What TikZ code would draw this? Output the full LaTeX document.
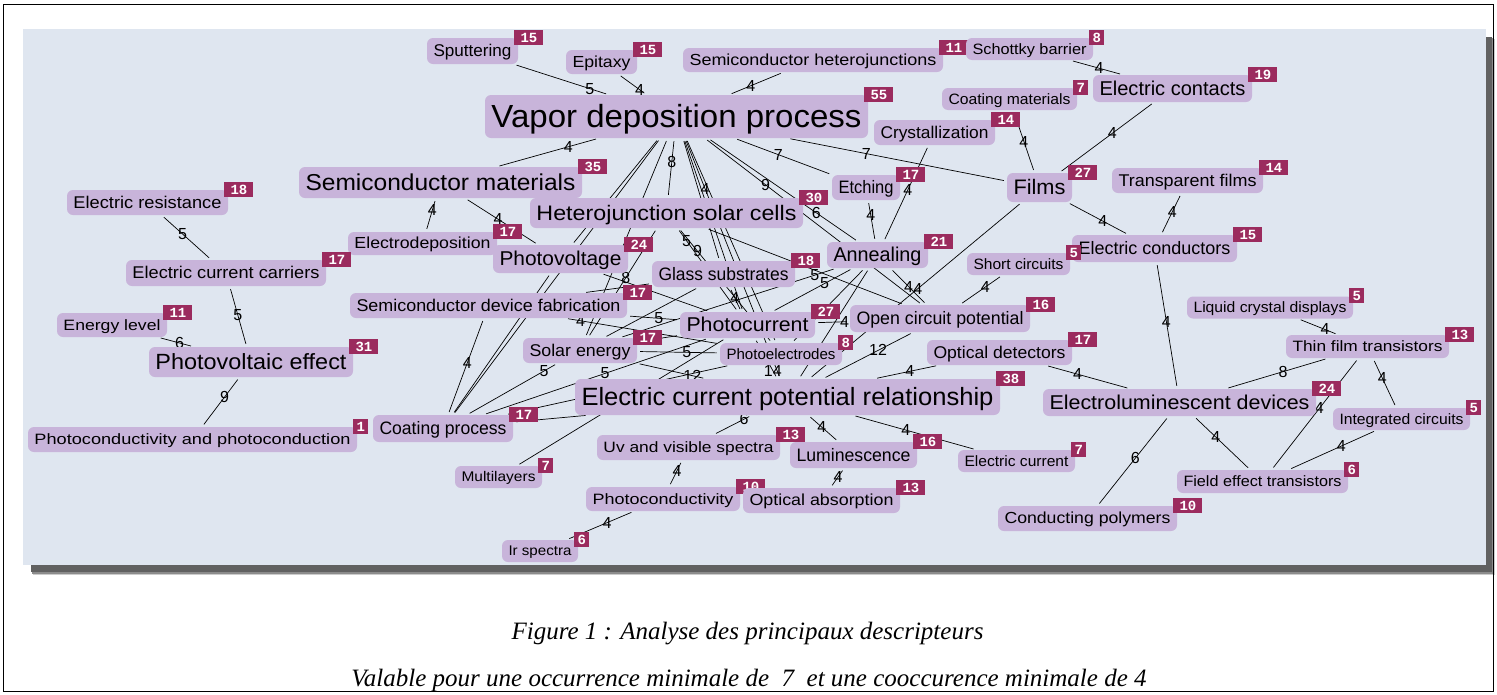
\documentclass[tikz,border=0pt]{standalone}
\usepackage{fontspec}
\usepackage{graphicx}
\setmainfont{Liberation Serif}
\newfontfamily\nodefont{Liberation Sans}
\newfontfamily\badgefont{Liberation Mono}
\definecolor{panelbg}{HTML}{DFE6F0}
\definecolor{nodefill}{HTML}{C8B4DA}
\definecolor{badgefill}{HTML}{9B2B5E}
\pgfdeclarelayer{back}
\pgfdeclarelayer{edges}
\pgfsetlayers{back,edges,main}
\tikzset{
  kw/.style={fill=nodefill, rounded corners=6pt, inner sep=0pt, anchor=center},
  bdg/.style={fill=badgefill, text=white, font=\badgefont\bfseries\fontsize{14}{14}\selectfont,
    inner xsep=0pt, inner ysep=0pt, minimum height=15pt, text height=10pt, text depth=0pt, anchor=south west},
  edge/.style={draw=black, line width=0.7pt, shorten <=3pt, shorten >=3pt},
  lab/.style={font=\nodefont\fontsize{16}{16}\selectfont, inner sep=0pt, text=black},
  captext/.style={font=\itshape\fontsize{25}{25}\selectfont, inner sep=0pt}
}
\newcommand\kwnode[8]{%
  \node[kw, minimum width=#4pt, minimum height=#5pt] (#1) at (#2,#3)
    {\resizebox{\dimexpr #4pt-13pt\relax}{\height}{\fontsize{#6}{#6}\selectfont\nodefont\rule[-0.22em]{0pt}{1.12em}#7}};
  \ifnum#8<10\relax\def\bdgw{15pt}\else\def\bdgw{29pt}\fi
  \node[bdg, minimum width=\bdgw] (#1-n) at ([xshift=-4pt,yshift=-7pt]#1.north east) {#8};
}
\newcommand\ed[4]{\draw[edge] (#1) -- node[lab,pos=#4]{#3} (#2);}
\newcommand\en[2]{\draw[edge] (#1) -- (#2);}
\begin{document}
\begin{tikzpicture}[x=1pt,y=-1pt]
\useasboundingbox (0,0) rectangle (1497,694);
\begin{pgfonlayer}{back}
  \fill[white] (0,0) rectangle (1497,694);
  \fill[black!20] (33,39) rectangle (1495,575);
  \fill[black!45] (32,38) rectangle (1494,574);
  \fill[black!62] (31,37) rectangle (1492,572);
  \fill[panelbg] (23,29) rectangle (1486,565);
\end{pgfonlayer}
\draw[line width=1.2pt] (3.5,4.5) rectangle (1493.5,691.5);

% nodes
\kwnode{sput}{472.5}{51}{91}{26}{17}{Sputtering}{15}
\kwnode{epit}{601.5}{62}{71}{24}{16}{Epitaxy}{15}
\kwnode{shet}{813}{60}{260}{24}{16}{Semiconductor heterojunctions}{11}
\kwnode{schot}{1029.5}{49}{127}{22}{15}{Schottky barrier}{8}
\kwnode{vapor}{676.5}{116.5}{383}{43}{32}{Vapor deposition process}{55}
\kwnode{cmat}{1009.5}{99}{135}{22}{15}{Coating materials}{7}
\kwnode{econt}{1172.5}{88.5}{159}{27}{20}{Electric contacts}{19}
\kwnode{cryst}{934.5}{132.5}{121}{25}{17}{Crystallization}{14}
\kwnode{smat}{440.5}{182.5}{283}{31}{23}{Semiconductor materials}{35}
\kwnode{eres}{147.5}{202.5}{161}{25}{17}{Electric resistance}{18}
\kwnode{etch}{866}{187.5}{68}{25}{18}{Etching}{17}
\kwnode{films}{1039.5}{187.5}{65}{29}{21}{Films}{27}
\kwnode{tfilms}{1187.5}{180.5}{151}{25}{17}{Transparent films}{14}
\kwnode{hsc}{666.5}{213}{273}{30}{21}{Heterojunction solar cells}{30}
\kwnode{edep}{422.5}{243.5}{149}{23}{16}{Electrodeposition}{17}
\kwnode{pvolt}{560.5}{259}{135}{28}{20}{Photovoltage}{24}
\kwnode{anneal}{877.5}{255}{101}{26}{20}{Annealing}{21}
\kwnode{ecc}{226}{273}{200}{26}{17}{Electric current carriers}{17}
\kwnode{glass}{723.5}{274}{143}{26}{18}{Glass substrates}{18}
\kwnode{econd}{1154.5}{248.5}{165}{27}{18}{Electric conductors}{15}
\kwnode{short}{1018.5}{264}{103}{22}{15}{Short circuits}{5}
\kwnode{sdf}{488.5}{305.5}{277}{25}{17}{Semiconductor device fabrication}{17}
\kwnode{energy}{112}{325}{110}{24}{15}{Energy level}{11}
\kwnode{pcur}{747.5}{325}{135}{26}{20}{Photocurrent}{27}
\kwnode{ocp}{940}{318.5}{180}{27}{18}{Open circuit potential}{16}
\kwnode{lcd}{1270}{307.5}{166}{22}{15}{Liquid crystal displays}{5}
\kwnode{pve}{251}{362}{204}{30}{22}{Photovoltaic effect}{31}
\kwnode{solar}{580}{350.5}{114}{25}{17}{Solar energy}{17}
\kwnode{pelec}{781}{354}{122}{22}{15}{Photoelectrodes}{8}
\kwnode{optdet}{999.5}{352.5}{145}{25}{17}{Optical detectors}{17}
\kwnode{tft}{1367.5}{346.5}{163}{23}{15}{Thin film transistors}{13}
\kwnode{ecpr}{787.5}{397}{425}{36}{25}{Electric current potential relationship}{38}
\kwnode{eld}{1179.5}{402.5}{273}{27}{20}{Electroluminescent devices}{24}
\kwnode{ic}{1401.5}{419}{137}{22}{15}{Integrated circuits}{5}
\kwnode{pcpc}{192.5}{439.5}{329}{25}{15}{Photoconductivity and photoconduction}{1}
\kwnode{coat}{443}{428.5}{140}{27}{18}{Coating process}{17}
\kwnode{uv}{688.5}{447.5}{183}{25}{15}{Uv and visible spectra}{13}
\kwnode{lum}{853.5}{455}{127}{26}{18}{Luminescence}{16}
\kwnode{ecur}{1016.5}{461}{117}{22}{15}{Electric current}{7}
\kwnode{multi}{498.5}{477}{87}{22}{14}{Multilayers}{7}
\kwnode{fet}{1262.5}{481.5}{171}{23}{15}{Field effect transistors}{6}
\kwnode{pcond}{663}{499}{154}{24}{15}{Photoconductivity}{10}
\kwnode{oabs}{821.5}{500.5}{157}{25}{16}{Optical absorption}{13}
\kwnode{cpoly}{1087.5}{518.5}{179}{25}{16}{Conducting polymers}{10}
\kwnode{ir}{540}{551}{76}{22}{14}{Ir spectra}{6}

\begin{pgfonlayer}{edges}
\ed{sput}{vapor}{5}{0.8}
\ed{epit}{vapor}{4}{0.75}
\ed{shet}{vapor}{4}{0.6}
\ed{vapor}{smat}{4}{0.3}
\ed{vapor}{etch}{7}{0.45}
\ed{vapor}{films}{7}{0.36}
\ed{vapor}{hsc}{8}{0.4}
\ed{vapor}{ocp}{9}{0.28}
\ed{vapor}{anneal}{6}{0.72}
\ed{vapor}{ecpr}{4}{0.21}
\en{vapor}{pcur}
\en{vapor}{pelec}
\en{vapor}{glass}
\en{vapor}{pvolt}
\en{vapor}{coat}
\en{vapor}{solar}
\ed{schot}{econt}{4}{0.55}
\ed{cmat}{films}{4}{0.5}
\ed{econt}{films}{4}{0.44}
\ed{cryst}{anneal}{4}{0.46}
\ed{etch}{anneal}{4}{0.36}
\ed{films}{econd}{4}{0.58}
\ed{tfilms}{econd}{4}{0.45}
\ed{films}{ecpr}{4}{0.49}
\ed{econd}{eld}{4}{0.47}
\ed{lcd}{tft}{4}{0.67}
\ed{tft}{eld}{8}{0.44}
\ed{tft}{fet}{4}{0.45}
\ed{tft}{ic}{4}{0.4}
\ed{ic}{fet}{4}{0.4}
\ed{eld}{fet}{4}{0.39}
\ed{eld}{cpoly}{6}{0.47}
\ed{optdet}{eld}{4}{0.38}
\ed{optdet}{ecpr}{4}{0.45}
\ed{ocp}{ecpr}{12}{0.39}
\ed{short}{ocp}{4}{0.4}
\ed{ecpr}{uv}{6}{0.2}
\ed{ecpr}{lum}{4}{0.45}
\ed{ecpr}{ecur}{4}{0.43}
\ed{uv}{pcond}{4}{0.4}
\ed{lum}{oabs}{4}{0.45}
\ed{pcond}{ir}{4}{0.4}
\ed{eres}{ecc}{5}{0.42}
\ed{ecc}{pve}{5}{0.48}
\ed{energy}{pve}{6}{0.6}
\ed{pve}{pcpc}{9}{0.4}
\ed{smat}{edep}{4}{0.35}
\ed{smat}{pvolt}{4}{0.45}
\ed{hsc}{solar}{8}{0.45}
\ed{hsc}{pcur}{5}{0.15}
\ed{hsc}{pelec}{9}{0.2}
\en{hsc}{ocp}
\ed{sdf}{pcur}{5}{0.6}
\ed{sdf}{pelec}{4}{0.1}
\en{sdf}{glass}
\ed{coat}{sdf}{4}{0.54}
\ed{coat}{solar}{5}{0.85}
\ed{coat}{pcur}{5}{0.54}
\en{coat}{pelec}
\en{coat}{pvolt}
\en{coat}{ecpr}
\en{multi}{pcur}
\ed{solar}{ecpr}{12}{0.8}
\ed{solar}{pelec}{5}{0.6}
\en{solar}{glass}
\en{solar}{pcur}
\en{pvolt}{pcur}
\ed{pcur}{ecpr}{14}{0.8}
\ed{glass}{pcur}{4}{0.45}
\ed{anneal}{pcur}{5}{0.35}
\ed{anneal}{solar}{5}{0.1}
\ed{anneal}{ocp}{4}{0.5}
\en{anneal}{ecpr}
\en{pelec}{anneal}
\ed{ocp}{pcur}{4}{0.15}
\end{pgfonlayer}

\node[captext] (cap1) at (747.5,634) {Figure 1 : Analyse des principaux descripteurs};
\node[captext] (cap2) at (749,680) {Valable pour une occurrence minimale de\ \ 7\ \ et une cooccurence minimale de 4};
\end{tikzpicture}
\end{document}
